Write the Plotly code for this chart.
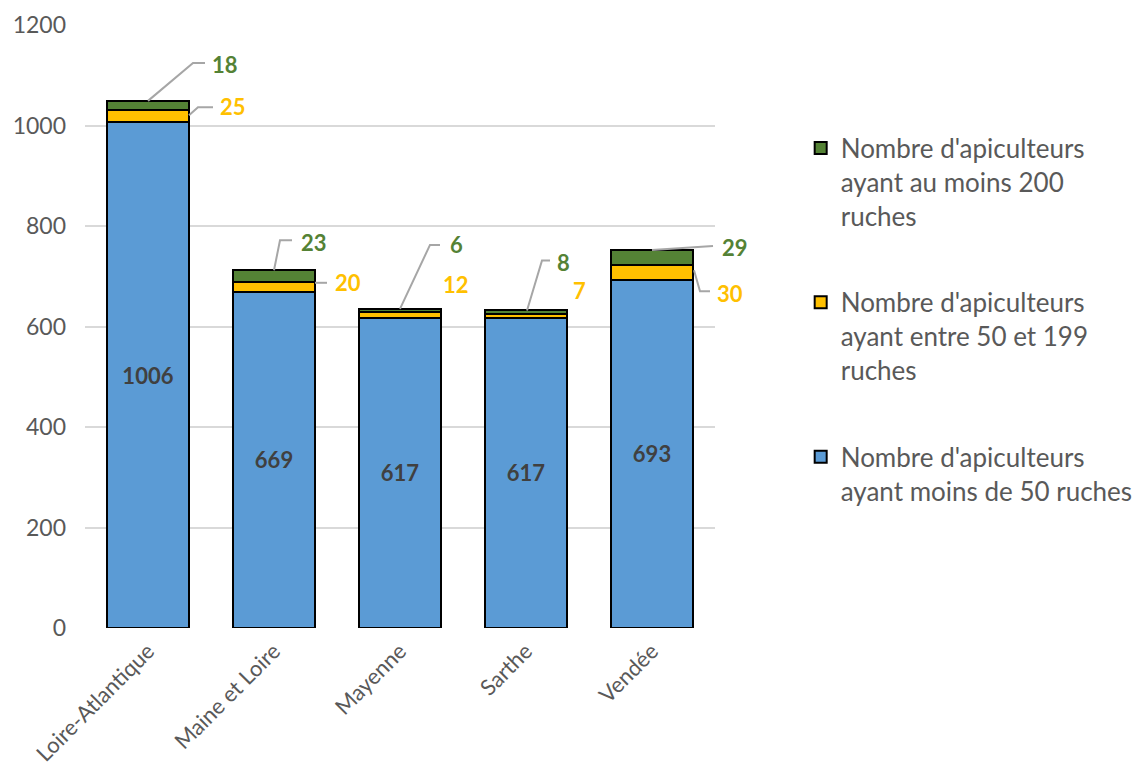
import plotly.graph_objects as go

categories = ["Loire-Atlantique", "Maine et Loire", "Mayenne", "Sarthe", "Vendée"]
moins_50 = [1006, 669, 617, 617, 693]
entre_50_199 = [25, 20, 12, 7, 30]
au_moins_200 = [18, 23, 6, 8, 29]
y_ticks = [0, 200, 400, 600, 800, 1000, 1200]

names = [
    "Nombre d'apiculteurs<br>ayant moins de 50 ruches",
    "Nombre d'apiculteurs<br>ayant entre 50 et 199<br>ruches",
    "Nombre d'apiculteurs<br>ayant au moins 200<br>ruches",
]
colors = ["#5B9BD5", "#FFC000", "#548235"]

# page is rendered with an 8px body margin
W, H = 1132, 763
L, R, T, B = 77, 425, 17, 143
plot_w = W - L - R
plot_h = H - T - B
YMAX = 1200
N = len(categories)
ux = N / plot_w   # category units per pixel
uy = YMAX / plot_h  # value units per pixel

FONT = "Lato"
GRAY = "#595959"

# leader-line / label layout, pixel offsets from an anchor (dx right, dy down)
green_layout = [
    ([(0, 0), (45, -38), (57, -38)], (77, -36)),
    ([(0, 0), (6, -30), (18, -30)], (40, -28)),
    ([(0, 0), (30, -64), (40, -64)], (56, -64)),
    ([(1, 0), (16, -50), (24, -50)], (37, -48)),
    ([(0, 0), (61, -4)], (83, -3)),
]
yellow_layout = [
    ([(41, -1), (50, -9), (65, -9)], (85, -10)),
    ([(41, -4), (53, -4)], (74, -4)),
    ([], (56, -30)),
    ([], (53, -26)),
    ([(42, -2), (48, 19), (58, 19)], (78, 21)),
]

xs = list(range(N))
fig = go.Figure()
series = [moins_50, entre_50_199, au_moins_200]
for k, (vals, nm, col) in enumerate(zip(series, names, colors)):
    fig.add_trace(go.Bar(
        x=xs, y=vals, name=nm, legendgroup=str(k), legendrank=10 - k,
        marker=dict(color=col, line=dict(color="black", width=2)),
        width=0.65,
        text=[str(v) for v in vals] if k == 0 else None,
        textposition="inside" if k == 0 else "none",
        insidetextanchor="middle",
        textfont=dict(family=FONT, size=22, color="#404040", weight="bold"),
        hoverinfo="skip",
    ))

shapes = []
annotations = []


def add_label(i, base_y, pts, txt_off, text, color):
    if pts:
        path = ""
        for j, (dx, dy) in enumerate(pts):
            px = i + dx * ux
            py = base_y - dy * uy
            path += ("M" if j == 0 else " L") + f"{px},{py}"
        shapes.append(dict(type="path", path=path, xref="x", yref="y",
                           line=dict(color="#A6A6A6", width=2)))
    annotations.append(dict(
        x=(i + 0.5) / N + txt_off[0] / plot_w, y=base_y - txt_off[1] * uy,
        xref="paper", yref="y",
        text=f"<b>{text}</b>", showarrow=False, xanchor="center", yanchor="middle",
        font=dict(family=FONT, size=22, color=color)))


for i in xs:
    total = moins_50[i] + entre_50_199[i] + au_moins_200[i]
    pts, toff = green_layout[i]
    add_label(i, total, pts, toff, au_moins_200[i], "#548235")
    ymid = moins_50[i] + entre_50_199[i] / 2
    pts, toff = yellow_layout[i]
    add_label(i, ymid, pts, toff, entre_50_199[i], "#FFC000")

fig.update_layout(
    width=W, height=H,
    margin=dict(l=L, r=R, t=T, b=B, autoexpand=False),
    barmode="stack",
    plot_bgcolor="white", paper_bgcolor="white",
    font=dict(family=FONT, color=GRAY),
    shapes=shapes, annotations=annotations,
    showlegend=True,
    legend=dict(
        x=1.136, y=0.835, xanchor="left", yanchor="top",
        traceorder="grouped", tracegroupgap=50, valign="top",
        font=dict(family=FONT, size=26, color=GRAY),
        bgcolor="rgba(0,0,0,0)",
    ),
    xaxis=dict(
        tickvals=xs, ticktext=categories, range=[-0.5, N - 0.5],
        tickangle=-45, showgrid=False, zeroline=False,
        showline=False, ticks="", ticklabelstandoff=5,
        tickfont=dict(family=FONT, size=22, color=GRAY),
    ),
    yaxis=dict(
        range=[0, YMAX], tickvals=y_ticks, showgrid=True,
        gridcolor="#D9D9D9", gridwidth=1.5, zeroline=False, showline=False,
        ticks="", ticklabelstandoff=18,
        tickfont=dict(family=FONT, size=23, color=GRAY),
    ),
)

fig.write_html("out.html")
